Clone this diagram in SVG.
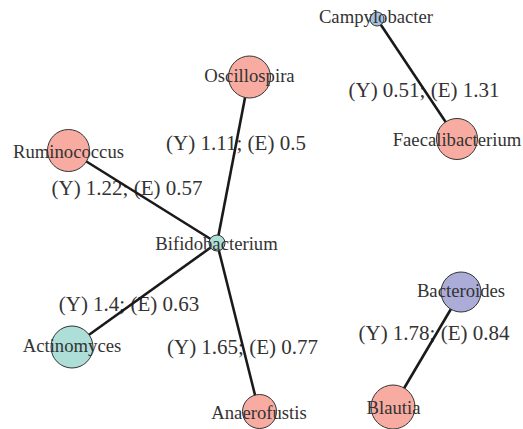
<svg xmlns="http://www.w3.org/2000/svg" width="523" height="429" viewBox="0 0 523 429">
<style>
.bg{fill:#ffffff}
.el{font-family:"Liberation Serif","Times New Roman",serif;font-size:21px;fill:#333333;text-anchor:middle}
.nl{font-family:"Liberation Serif","Times New Roman",serif;font-size:18.7px;fill:#333333;text-anchor:middle}
.edge{stroke:#1a1a1a;stroke-width:2.6;fill:none}
.n{stroke:#333333;stroke-width:1}
.red{fill:#F8ACA1}
.teal{fill:#ADDED7}
.blue{fill:#A5C3E0}
.lav{fill:#ABACD7}
</style>
<rect class="bg" x="0" y="0" width="523" height="429"/>
<g id="edge-labels">
<text class="el" x="424" y="96.5">(Y) 0.51; (E) 1.31</text>
<text class="el" x="236" y="149.5">(Y) 1.11; (E) 0.5</text>
<text class="el" x="127" y="195">(Y) 1.22; (E) 0.57</text>
<text class="el" x="129" y="311">(Y) 1.4; (E) 0.63</text>
<text class="el" x="242.5" y="353.5">(Y) 1.65; (E) 0.77</text>
<text class="el" x="434" y="340">(Y) 1.78; (E) 0.84</text>
</g>
<g id="connectors">
<line class="edge" x1="377" y1="19" x2="457" y2="139"/>
<line class="edge" x1="217" y1="243" x2="249" y2="77"/>
<line class="edge" x1="217" y1="243" x2="68" y2="150"/>
<line class="edge" x1="217" y1="243" x2="72" y2="347"/>
<line class="edge" x1="217" y1="243" x2="259" y2="411"/>
<line class="edge" x1="461" y1="292" x2="393" y2="407"/>
</g>
<g id="Campylobacter"><circle class="n blue" cx="377" cy="19" r="7"/><text class="nl" x="376" y="23">Campylobacter</text></g>
<g id="Faecalibacterium"><circle class="n red" cx="457" cy="139" r="20.5"/><text class="nl" x="457" y="146">Faecalibacterium</text></g>
<g id="Oscillospira"><circle class="n red" cx="249.5" cy="77" r="21"/><text class="nl" x="249.5" y="82">Oscillospira</text></g>
<g id="Ruminococcus"><circle class="n red" cx="68.5" cy="150.5" r="21"/><text class="nl" x="68.5" y="157.5">Ruminococcus</text></g>
<g id="Bifidobacterium"><circle class="n teal" cx="217" cy="243" r="8"/><text class="nl" x="216.5" y="249.5">Bifidobacterium</text></g>
<g id="Actinomyces"><circle class="n teal" cx="72" cy="347" r="21"/><text class="nl" x="72" y="352">Actinomyces</text></g>
<g id="Anaerofustis"><circle class="n red" cx="259.5" cy="411.5" r="17"/><text class="nl" x="259" y="418.5">Anaerofustis</text></g>
<g id="Bacteroides"><circle class="n lav" cx="461" cy="292" r="20"/><text class="nl" x="461" y="297">Bacteroides</text></g>
<g id="Blautia"><circle class="n red" cx="393" cy="407" r="22"/><text class="nl" x="393.5" y="413.5">Blautia</text></g>
</svg>
